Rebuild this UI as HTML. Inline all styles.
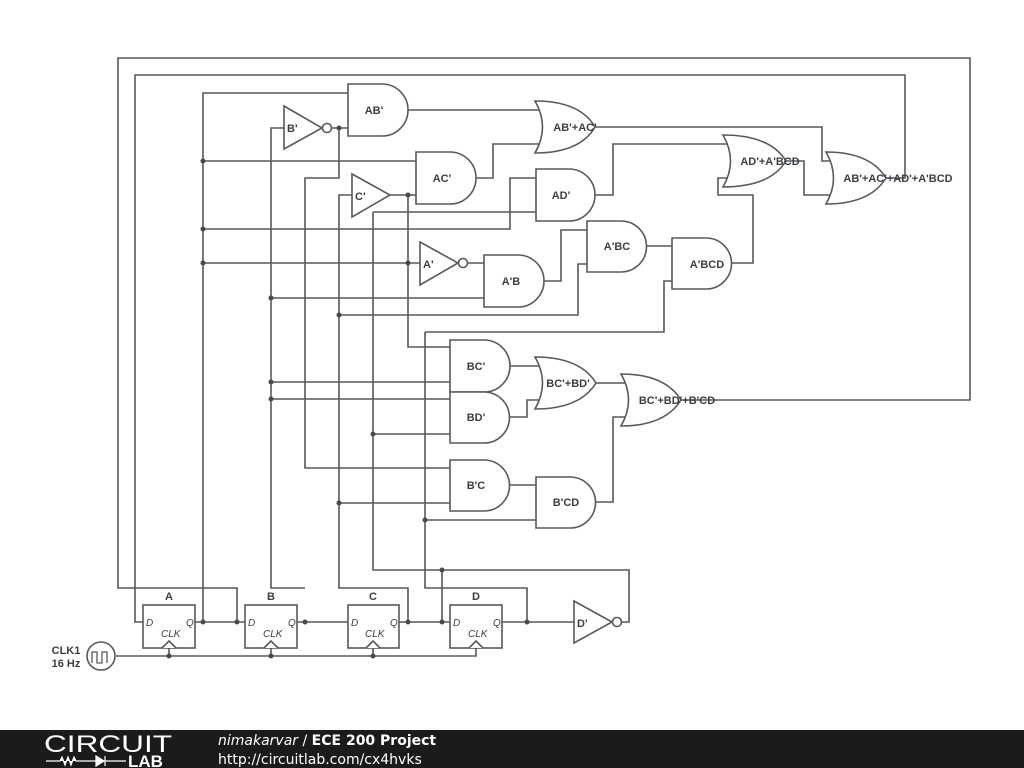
<!DOCTYPE html>
<html><head><meta charset="utf-8"><style>
html,body{margin:0;padding:0;background:#fff;width:1024px;height:768px;overflow:hidden}
svg{display:block}
.w{fill:none;stroke:#555a5e;stroke-width:1.6}
.g{fill:#fff;stroke:#555a5e;stroke-width:1.6}
.t{font-family:"Liberation Sans",sans-serif;font-weight:bold;font-size:11px;fill:#3a3f44}
.i{font-family:"Liberation Sans",sans-serif;font-style:italic;font-size:10px;fill:#3a3f44}
.d{fill:#444a4e}
</style></head><body>
<svg width="1024" height="768" viewBox="0 0 1024 768">
<g class="w">
<path d="M681 400H970V58H118V588H237V622"/>
<path d="M885 178H905V75H135V622H143"/>
<path d="M348 93H203V622"/>
<path d="M203 161H416"/>
<path d="M203 229H510V178H536"/>
<path d="M203 263H420"/>
<path d="M195 622H245"/>
<path d="M284 128H271V588H305"/>
<path d="M297 622H348"/>
<path d="M271 298H484"/>
<path d="M271 382H450"/>
<path d="M271 399H450"/>
<path d="M331 128H348"/>
<path d="M339 128V178H305V468H450"/>
<path d="M352 195H339V588H408V622"/>
<path d="M339 315H578V264H587"/>
<path d="M339 503H450"/>
<path d="M399 622H450"/>
<path d="M390 195H416"/>
<path d="M408 195V347H450"/>
<path d="M373 212H536"/>
<path d="M373 212V570H629V622H621"/>
<path d="M373 434H450"/>
<path d="M425 332H664V281H672"/>
<path d="M425 332V588H527V622"/>
<path d="M425 520H536"/>
<path d="M442 570V622"/>
<path d="M502 622H574"/>
<path d="M467 263H484"/>
<path d="M408 110H540"/>
<path d="M476 178H493V144H540"/>
<path d="M595 127H822V161H834"/>
<path d="M595 195H613V144H729"/>
<path d="M544 281H561V230H587"/>
<path d="M646 246H672"/>
<path d="M731 263H753V195H718V178H729"/>
<path d="M786 161H804V195H834"/>
<path d="M510 366H540"/>
<path d="M509 417H527V400H540"/>
<path d="M596 383H625"/>
<path d="M509 485H536"/>
<path d="M595 502H613V417H625"/>
<path d="M116 656H476V648"/>
<path d="M169 656V648M271 656V648M373 656V648"/>
</g>
<g class="d">
<circle cx="339" cy="128" r="2.5"/><circle cx="408" cy="195" r="2.5"/>
<circle cx="203" cy="161" r="2.5"/><circle cx="203" cy="229" r="2.5"/><circle cx="203" cy="263" r="2.5"/>
<circle cx="408" cy="263" r="2.5"/><circle cx="271" cy="298" r="2.5"/><circle cx="339" cy="315" r="2.5"/>
<circle cx="271" cy="382" r="2.5"/><circle cx="271" cy="399" r="2.5"/><circle cx="373" cy="434" r="2.5"/>
<circle cx="339" cy="503" r="2.5"/><circle cx="425" cy="520" r="2.5"/><circle cx="442" cy="570" r="2.5"/>
<circle cx="203" cy="622" r="2.5"/><circle cx="237" cy="622" r="2.5"/><circle cx="305" cy="622" r="2.5"/>
<circle cx="408" cy="622" r="2.5"/><circle cx="442" cy="622" r="2.5"/><circle cx="527" cy="622" r="2.5"/>
<circle cx="169" cy="656" r="2.5"/><circle cx="271" cy="656" r="2.5"/><circle cx="373" cy="656" r="2.5"/>
</g>
<g class="g">
<path d="M348 84H382A26 26 0 0 1 382 136H348Z"/>
<path d="M416 152H450A26 26 0 0 1 450 204H416Z"/>
<path d="M536 169H569A26 26 0 0 1 569 221H536Z"/>
<path d="M484 255H518A26 26 0 0 1 518 307H484Z"/>
<path d="M587 221H621A25.5 25.5 0 0 1 621 272H587Z"/>
<path d="M672 238H706A25.5 25.5 0 0 1 706 289H672Z"/>
<path d="M450 340H484A26 26 0 0 1 484 392H450Z"/>
<path d="M450 392H484A25.5 25.5 0 0 1 484 443H450Z"/>
<path d="M450 460H484A25.5 25.5 0 0 1 484 511H450Z"/>
<path d="M536 477H570A25.5 25.5 0 0 1 570 528H536Z"/>
<path d="M535 101Q550 127 535 153Q580 153 595 127Q580 101 535 101Z"/>
<path d="M723 135Q738 161 723 187Q770 187 786 161Q770 135 723 135Z"/>
<path d="M826 152Q841 178 826 204Q870 204 886 178Q870 152 826 152Z"/>
<path d="M535 357Q550 383 535 409Q580 409 596 383Q580 357 535 357Z"/>
<path d="M621 374Q636 400 621 426Q665 426 681 400Q665 374 621 374Z"/>
<path d="M284 106L322 128L284 149Z"/><circle cx="327" cy="128" r="4.5"/>
<path d="M352 174L390 195L352 217Z"/>
<path d="M420 242L458 263L420 285Z"/><circle cx="463" cy="263" r="4.5"/>
<path d="M574 601L612 622L574 643Z"/><circle cx="617" cy="622" r="4.5"/>
<rect x="143" y="605" width="52" height="43"/>
<rect x="245" y="605" width="52" height="43"/>
<rect x="348" y="605" width="51" height="43"/>
<rect x="450" y="605" width="52" height="43"/>
<path d="M162 648L169 641L176 648M264 648L271 641L278 648M366 648L373 641L380 648M469 648L476 641L483 648"/>
<circle cx="101" cy="656" r="14"/>
</g>
<path class="w" d="M92 663V652H97V663H102V652H107V663" style="stroke-width:1.3"/>
<g class="t" text-anchor="middle">
<text x="374" y="114">AB'</text>
<text x="442" y="182">AC'</text>
<text x="561" y="199">AD'</text>
<text x="511" y="285">A'B</text>
<text x="617" y="250">A'BC</text>
<text x="707" y="268">A'BCD</text>
<text x="476" y="370">BC'</text>
<text x="476" y="421">BD'</text>
<text x="476" y="489">B'C</text>
<text x="566" y="506">B'CD</text>
<text x="575" y="131">AB'+AC'</text>
<text x="770" y="165">AD'+A'BCD</text>
<text x="898" y="182">AB'+AC'+AD'+A'BCD</text>
<text x="568" y="387">BC'+BD'</text>
<text x="677" y="404">BC'+BD'+B'CD</text>
<text x="169" y="600">A</text><text x="271" y="600">B</text><text x="373" y="600">C</text><text x="476" y="600">D</text>
<text x="66" y="654">CLK1</text><text x="66" y="667">16 Hz</text>
</g>
<g class="t">
<text x="287" y="132">B'</text><text x="355" y="200">C'</text><text x="423" y="268">A'</text><text x="577" y="627">D'</text>
</g>
<g class="i">
<text x="146" y="626">D</text><text x="186" y="626">Q</text><text x="161" y="637">CLK</text>
<text x="248" y="626">D</text><text x="288" y="626">Q</text><text x="263" y="637">CLK</text>
<text x="351" y="626">D</text><text x="390" y="626">Q</text><text x="365" y="637">CLK</text>
<text x="453" y="626">D</text><text x="493" y="626">Q</text><text x="468" y="637">CLK</text>
</g>
<rect x="0" y="730" width="1024" height="38" fill="#1b1b1b"/>
<text x="44" y="752" font-family="Liberation Sans,sans-serif" font-size="24" fill="#fff" textLength="128" lengthAdjust="spacingAndGlyphs">CIRCUIT</text>
<path d="M46 761H60L62 757L65 765L68 757L71 765L74 757L76 761H96M96 756V766L104 761ZM105 756V766M105 761H126" fill="#fff" stroke="#fff" stroke-width="1.2"/>
<text x="128" y="767" font-family="Liberation Sans,sans-serif" font-size="17" font-weight="bold" fill="#fff">LAB</text>
<text x="218" y="745" font-family="DejaVu Sans,sans-serif" font-size="14" fill="#fff"><tspan font-style="italic">nimakarvar</tspan> / <tspan font-weight="bold">ECE 200 Project</tspan></text>
<text x="218" y="764" font-family="DejaVu Sans,sans-serif" font-size="14" fill="#fff">http://circuitlab.com/cx4hvks</text>
</svg>
</body></html>
